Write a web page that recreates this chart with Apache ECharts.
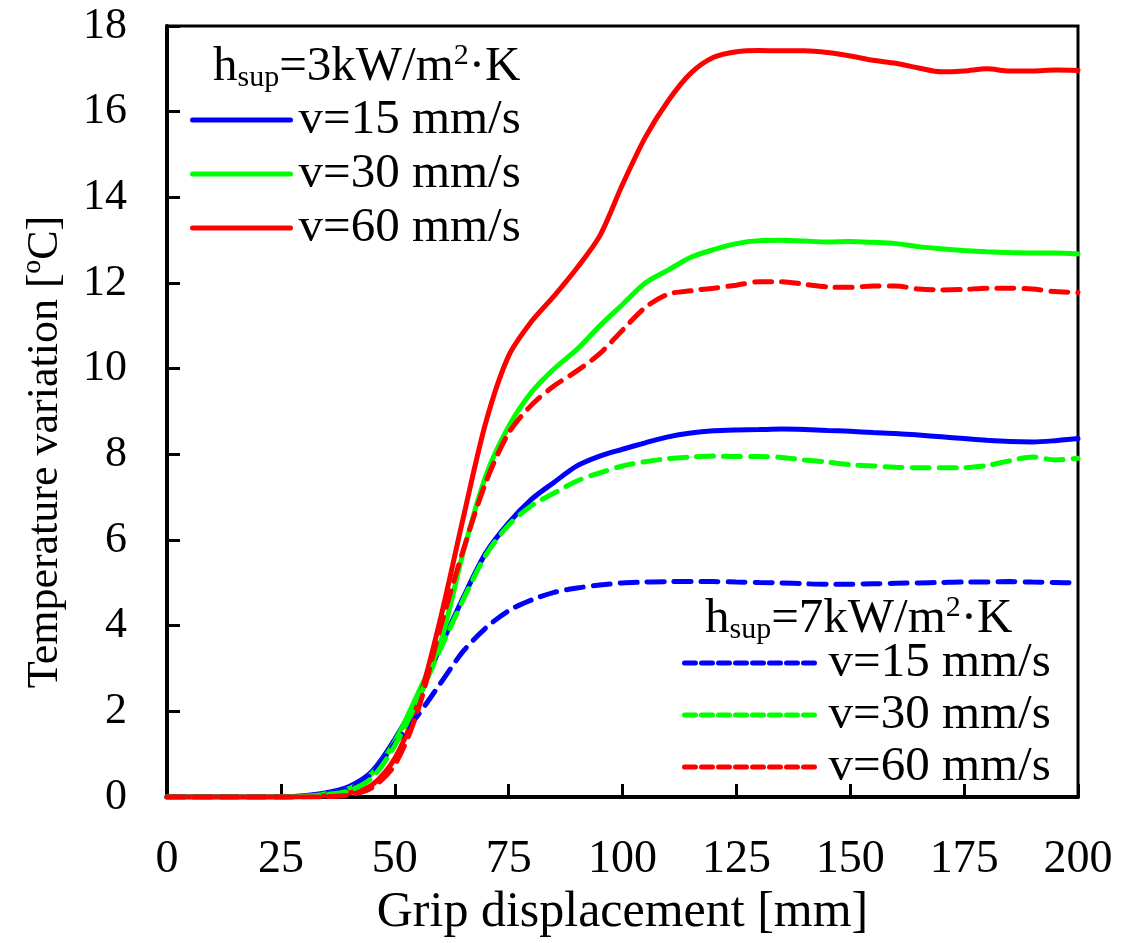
<!DOCTYPE html>
<html>
<head>
<meta charset="utf-8">
<script src="https://cdn.jsdelivr.net/npm/echarts@6/dist/echarts.min.js"></script>
<style>
html,body{margin:0;padding:0;background:#fff;}
#chart{width:1145px;height:943px;}
</style>
</head>
<body>
<div id="chart"></div>
<script>
// Grip displacement [mm]
const xs = [0,5,10,15,20,25,30,35,40,45,50,55,60,65,70,75,80,85,90,95,100,105,110,115,120,125,130,135,140,145,150,155,160,165,170,175,180,185,190,195,200];
const xTicks = [0,25,50,75,100,125,150,175,200];
const yTicks = [0,2,4,6,8,10,12,14,16,18];

// h_sup = 3 kW/m2K (solid)
const h3_v15 = [0,0,0,0,0,0,0.03,0.1,0.25,0.6,1.35,2.3,3.5,4.65,5.7,6.4,6.95,7.35,7.73,7.96,8.12,8.27,8.41,8.5,8.55,8.57,8.58,8.59,8.58,8.56,8.54,8.51,8.49,8.45,8.41,8.37,8.33,8.3,8.29,8.32,8.37];
const h3_v30 = [0,0,0,0,0,0,0.02,0.08,0.2,0.55,1.3,2.4,3.6,5.7,7.5,8.65,9.45,10.0,10.45,11.0,11.5,12.0,12.3,12.6,12.78,12.92,12.99,13.0,12.98,12.96,12.97,12.95,12.92,12.85,12.8,12.76,12.73,12.71,12.7,12.7,12.68];
const h3_v60 = [0,0,0,0,0,0,0.01,0.03,0.1,0.28,0.9,2.15,4.15,6.5,8.75,10.3,11.1,11.7,12.35,13.1,14.3,15.4,16.25,16.9,17.27,17.4,17.43,17.42,17.42,17.38,17.3,17.2,17.13,17.02,16.93,16.95,17.0,16.95,16.95,16.97,16.96];

// h_sup = 7 kW/m2K (dashed)
const h7_v15 = [0,0,0,0,0,0,0.02,0.08,0.2,0.55,1.25,1.9,2.65,3.4,3.95,4.35,4.6,4.78,4.88,4.95,5.0,5.02,5.03,5.03,5.03,5.02,5.01,5.0,4.98,4.97,4.97,4.98,4.99,5.0,5.01,5.02,5.02,5.03,5.02,5.01,5.0];
const h7_v30 = [0,0,0,0,0,0,0.02,0.06,0.15,0.45,1.2,2.25,3.45,4.6,5.65,6.35,6.8,7.1,7.38,7.57,7.73,7.83,7.9,7.94,7.96,7.95,7.95,7.93,7.87,7.82,7.76,7.73,7.7,7.69,7.69,7.69,7.74,7.85,7.94,7.87,7.91];
const h7_v60 = [0,0,0,0,0,0,0,0.01,0.05,0.22,0.75,2.0,3.95,5.75,7.35,8.5,9.15,9.6,9.95,10.35,10.9,11.43,11.74,11.82,11.88,11.95,12.03,12.03,11.97,11.91,11.9,11.93,11.93,11.86,11.84,11.85,11.88,11.88,11.86,11.8,11.78];

const legendLabels = ['v=15 mm/s','v=30 mm/s','v=60 mm/s'];
const FONT = 'Liberation Serif';
const BLUE = '#0000ff', GREEN = '#00ff00', RED = '#ff0000';

function pairs(ys){ return xs.map((x,i)=>[x, ys[i]]); }
function mk(name, ys, color, dashed){
  return {
    name: name, type: 'line', data: pairs(ys), symbol: 'none', smooth: 0.3,
    lineStyle: dashed ? {color: color, width: 5, type: [17, 10], cap: 'round'} : {color: color, width: 5, cap: 'round'},
    itemStyle: {color: color}, emphasis: {disabled: true}, z: dashed ? 3 : 2
  };
}
const names3 = legendLabels.map(l => 'h3|' + l);
const names7 = legendLabels.map(l => 'h7|' + l);

function legendCfg(names, left, top, w, lh, pad, dash){
  const ls = {width: 5, cap: 'round', opacity: 1};
  if (dash) ls.type = dash;
  return {
    data: names, padding: 0,
    orient: 'vertical', left: left, top: top, itemWidth: w, itemHeight: 14, itemGap: 0,
    formatter: n => n.split('|')[1], selectedMode: false,
    itemStyle: {opacity: 0, borderWidth: 0, color: 'rgba(0,0,0,0)'},
    lineStyle: ls,
    textStyle: {fontFamily: FONT, fontSize: 49, color: '#000', lineHeight: lh, padding: [0,0,0,pad]}
  };
}
function title(txt, left, top){
  return {
    type: 'text', left: left, top: top, z: 10,
    style: {
      text: '{a|h}{b|sup}{a|=' + txt + 'kW/m}{c|2}{a|·K}',
      rich: {
        a: {fontFamily: FONT, fontSize: 49, lineHeight: 52, fill: '#000'},
        b: {fontFamily: FONT, fontSize: 30, lineHeight: 52, verticalAlign: 'bottom', fill: '#000'},
        c: {fontFamily: FONT, fontSize: 30, lineHeight: 52, verticalAlign: 'top', fill: '#000'}
      }
    }
  };
}

const chart = echarts.init(document.getElementById('chart'));
chart.setOption({
  animation: false,
  backgroundColor: '#fff',
  grid: {left: 167, right: 67, top: 26, bottom: 139, show: true, borderColor: '#000', borderWidth: 3, containLabel: false},
  xAxis: {
    type: 'value', min: 0, max: 200, interval: 25,
    name: 'Grip displacement [mm]', nameLocation: 'middle', nameGap: 74,
    nameTextStyle: {fontFamily: FONT, fontSize: 50, color: '#000'},
    axisLine: {lineStyle: {color: '#000', width: 4}},
    axisTick: {inside: true, length: 13, lineStyle: {color: '#000', width: 3}},
    axisLabel: {fontFamily: FONT, fontSize: 46, color: '#000', margin: 40, customValues: xTicks},
    splitLine: {show: false}
  },
  yAxis: {
    type: 'value', min: 0, max: 18, interval: 2,
    axisLine: {show: true, lineStyle: {color: '#000', width: 4}},
    axisTick: {show: true, inside: true, length: 13, lineStyle: {color: '#000', width: 3}},
    axisLabel: {fontFamily: FONT, fontSize: 44, color: '#000', margin: 40, customValues: yTicks},
    splitLine: {show: false}
  },
  legend: [
    legendCfg(names3, 190, 93, 98, 54, 3, null),
    legendCfg(names7, 682, 637, 130, 52, 9, [11, 6])
  ],
  graphic: [
    title('3', 213, 41),
    title('7', 705, 593),
    {
      type: 'text', x: 45, y: 452, rotation: Math.PI / 2, z: 10,
      style: {
        text: 'Temperature variation [ºC]', fontFamily: FONT, fontSize: 44, fill: '#000',
        align: 'center', verticalAlign: 'middle'
      }
    }
  ],
  series: [
    mk(names3[0], h3_v15, BLUE, false),
    mk(names3[1], h3_v30, GREEN, false),
    mk(names3[2], h3_v60, RED, false),
    mk(names7[0], h7_v15, BLUE, true),
    mk(names7[1], h7_v30, GREEN, true),
    mk(names7[2], h7_v60, RED, true)
  ]
});
</script>
</body>
</html>
